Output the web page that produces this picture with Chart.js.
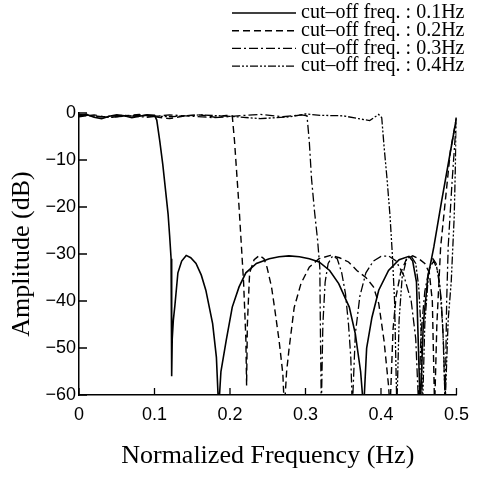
<!DOCTYPE html>
<html>
<head>
<meta charset="utf-8">
<script src="https://cdn.jsdelivr.net/npm/chart.js@4/dist/chart.umd.min.js"></script>
<style>
    body { margin: 0; background: #fff; }
    canvas { display: block; }
</style>
</head>
<body>
<canvas id="filterChart" width="478" height="477"></canvas>
<script>
// Tick labels
const xTickLabels = ['0', '0.1', '0.2', '0.3', '0.4', '0.5'];
const yTickLabels = ['\u221260', '\u221250', '\u221240', '\u221230', '\u221220', '\u221210', '0'];

// Legend texts
const seriesNames = [
    'cut\u2013off freq. : 0.1Hz',
    'cut\u2013off freq. : 0.2Hz',
    'cut\u2013off freq. : 0.3Hz',
    'cut\u2013off freq. : 0.4Hz'
];

// [normalized frequency (Hz), amplitude (dB)]
const cutoff01 = [
    [0, -0.6], [0.01, -0.3], [0.02, -0.9], [0.03, -1.2], [0.04, -0.7], [0.05, -0.4], [0.06, -0.6], [0.07, -1.0],
    [0.08, -0.7], [0.09, -0.4], [0.1, -0.5], [0.103, -1.5], [0.107, -6], [0.111, -11], [0.115, -17], [0.118, -21.5],
    [0.12, -26], [0.122, -31], [0.1225, -45], [0.123, -56], [0.1235, -48], [0.125, -44], [0.127, -41], [0.131, -34],
    [0.136, -31.5], [0.142, -30.3], [0.148, -30.8], [0.155, -32], [0.162, -34.5], [0.168, -37.7], [0.177, -44.8],
    [0.182, -52], [0.185, -63], [0.188, -55], [0.195, -48.4], [0.203, -41.3], [0.212, -37], [0.221, -34], [0.235, -32],
    [0.252, -31], [0.265, -30.6], [0.278, -30.4], [0.292, -30.6], [0.305, -31], [0.318, -31.7], [0.332, -33.5],
    [0.344, -36.3], [0.358, -41.3], [0.366, -47], [0.373, -55], [0.377, -63], [0.381, -50], [0.388, -43.5],
    [0.397, -37.7], [0.41, -33.5], [0.424, -31.2], [0.437, -30.5], [0.442, -31.5], [0.447, -36], [0.452, -63],
    [0.456, -45], [0.462, -35], [0.47, -28.5], [0.48, -19], [0.49, -10], [0.5, -1]
];

const cutoff02 = [
    [0, -0.8], [0.02, -0.4], [0.04, -1.0], [0.06, -0.6], [0.08, -0.3], [0.1, -0.8], [0.12, -1.2], [0.14, -0.6],
    [0.16, -0.4], [0.18, -0.9], [0.195, -0.5], [0.203, -0.6], [0.206, -6], [0.209, -13], [0.212, -20], [0.215, -28],
    [0.218, -36], [0.221, -48], [0.222, -58], [0.223, -45], [0.226, -34], [0.232, -31.2], [0.239, -30.3],
    [0.245, -31], [0.249, -32.8], [0.255, -37], [0.259, -41.4], [0.265, -48.4], [0.27, -55.5], [0.272, -63],
    [0.275, -55], [0.278, -50.5], [0.285, -41.4], [0.294, -36.3], [0.305, -32.8], [0.318, -31], [0.333, -30.3],
    [0.345, -30.8], [0.357, -31.7], [0.368, -33.5], [0.38, -35], [0.39, -37], [0.397, -40.5], [0.404, -48.4],
    [0.41, -58], [0.412, -63], [0.416, -46], [0.42, -39], [0.426, -34], [0.434, -31], [0.442, -30.4], [0.45, -31],
    [0.458, -32], [0.464, -34], [0.468, -40], [0.47, -55], [0.471, -63], [0.474, -45], [0.479, -28.5],
    [0.485, -19], [0.492, -8], [0.5, -1]
];

const cutoff03 = [
    [0, -0.3], [0.03, -0.8], [0.06, -0.5], [0.09, -0.9], [0.12, -0.4], [0.15, -0.7], [0.18, -1.0], [0.21, -0.6],
    [0.24, -0.3], [0.27, -0.8], [0.295, -0.4], [0.302, -0.6], [0.305, -6], [0.308, -14], [0.312, -21], [0.316, -27],
    [0.319, -33], [0.32, -50], [0.321, -63], [0.323, -45], [0.326, -36], [0.33, -32], [0.336, -30.4], [0.342, -31],
    [0.348, -34], [0.353, -38.5], [0.357, -45], [0.36, -52], [0.362, -63], [0.366, -47], [0.372, -39], [0.38, -34],
    [0.39, -31.5], [0.4, -30.5], [0.41, -30.4], [0.42, -31.5], [0.43, -34.5], [0.44, -40], [0.446, -48], [0.45, -63],
    [0.453, -47], [0.458, -38], [0.464, -33], [0.47, -31.5], [0.476, -34], [0.48, -40], [0.483, -50], [0.485, -62],
    [0.487, -40], [0.489, -28.5], [0.494, -15], [0.5, -1]
];

const cutoff04 = [
    [0, -0.4], [0.04, -0.9], [0.08, -0.5], [0.12, -0.8], [0.16, -0.4], [0.2, -0.7], [0.24, -1.2], [0.28, -0.8],
    [0.3, -0.2], [0.32, -0.5], [0.35, -0.6], [0.37, -1.2], [0.385, -1.6], [0.397, -0.3], [0.401, -1], [0.404, -7],
    [0.408, -14], [0.412, -22], [0.415, -30], [0.418, -40], [0.421, -63], [0.424, -44], [0.428, -35], [0.434, -31],
    [0.44, -30.5], [0.446, -32], [0.45, -37], [0.453, -46], [0.455, -63], [0.458, -45], [0.463, -34], [0.468, -30.8],
    [0.473, -32], [0.478, -37], [0.482, -46], [0.485, -62], [0.489, -44], [0.493, -36], [0.497, -22], [0.5, -1]
];

const seriesData = [cutoff01, cutoff02, cutoff03, cutoff04];
const dashes = [[], [7, 4], [9, 3, 2, 3], [8, 2, 2, 2, 2, 2]];
const widths = [1.6, 1.4, 1.3, 1.3];

const serif = "'Liberation Serif', 'Times New Roman', serif";
const sans = "'Liberation Sans', Arial, sans-serif";

// legend with line samples, drawn in the top right corner
const lineLegend = {
    id: 'lineLegend',
    afterDraw(chart) {
        const ctx = chart.ctx;
        ctx.save();
        ctx.font = '20px ' + serif;
        ctx.textBaseline = 'middle';
        ctx.fillStyle = '#000';
        chart.data.datasets.forEach((ds, i) => {
            const y = 13 + i * 17.7;
            ctx.strokeStyle = '#000';
            ctx.lineWidth = ds.borderWidth;
            ctx.setLineDash(ds.borderDash);
            ctx.beginPath();
            ctx.moveTo(232, y);
            ctx.lineTo(296, y);
            ctx.stroke();
            ctx.setLineDash([]);
            ctx.fillText(ds.label, 301, y);
        });
        ctx.restore();
    }
};

// tick marks pointing into the plot
const innerTicks = {
    id: 'innerTicks',
    afterDraw(chart) {
        const ctx = chart.ctx;
        const area = chart.chartArea;
        const xs = chart.scales.x;
        const ys = chart.scales.y;
        ctx.save();
        ctx.strokeStyle = '#000';
        ctx.lineWidth = 1.3;
        ctx.beginPath();
        xs.ticks.forEach(t => {
            const px = xs.getPixelForValue(t.value);
            ctx.moveTo(px, area.bottom);
            ctx.lineTo(px, area.bottom - 7);
        });
        ys.ticks.forEach(t => {
            const py = ys.getPixelForValue(t.value);
            ctx.moveTo(area.left, py);
            ctx.lineTo(area.left + 8, py);
        });
        ctx.stroke();
        ctx.restore();
    }
};

const ctx = document.getElementById('filterChart').getContext('2d');

const filterChart = new Chart(ctx, {
    type: 'scatter',
    data: {
        datasets: seriesData.map((pts, i) => ({
            label: seriesNames[i],
            data: pts.map(p => ({ x: p[0], y: p[1] })),
            showLine: true,
            borderColor: '#000',
            backgroundColor: '#000',
            borderWidth: widths[i],
            borderDash: dashes[i],
            pointRadius: 0,
            tension: 0
        }))
    },
    options: {
        responsive: false,
        animation: false,
        layout: {
            padding: { top: 113, right: 20, bottom: 0, left: 0 }
        },
        plugins: {
            legend: { display: false },
            tooltip: { enabled: false }
        },
        scales: {
            x: {
                type: 'linear',
                min: 0,
                max: 0.5,
                afterFit: s => { s.height = 82; },
                grid: { drawOnChartArea: false, drawTicks: false },
                border: { display: true, color: '#000', width: 1.5 },
                ticks: {
                    stepSize: 0.1,
                    padding: 9,
                    color: '#000',
                    font: { family: sans, size: 18 },
                    callback: (v, i) => xTickLabels[i]
                },
                title: {
                    display: true,
                    text: 'Normalized Frequency (Hz)',
                    color: '#000',
                    font: { family: serif, size: 26, lineHeight: 1.2 },
                    padding: { top: 0, bottom: 5 }
                }
            },
            y: {
                min: -60,
                max: 0,
                afterFit: s => { s.width = 79; },
                grid: { drawOnChartArea: false, drawTicks: false },
                border: { display: true, color: '#000', width: 1.5 },
                ticks: {
                    stepSize: 10,
                    padding: 3,
                    color: '#000',
                    font: { family: sans, size: 18 },
                    callback: (v, i) => yTickLabels[i]
                },
                title: {
                    display: true,
                    text: 'Amplitude (dB)',
                    color: '#000',
                    font: { family: serif, size: 26, lineHeight: 1.2 },
                    padding: { top: 7, bottom: 0 }
                }
            }
        }
    },
    plugins: [lineLegend, innerTicks]
});
</script>
</body>
</html>
